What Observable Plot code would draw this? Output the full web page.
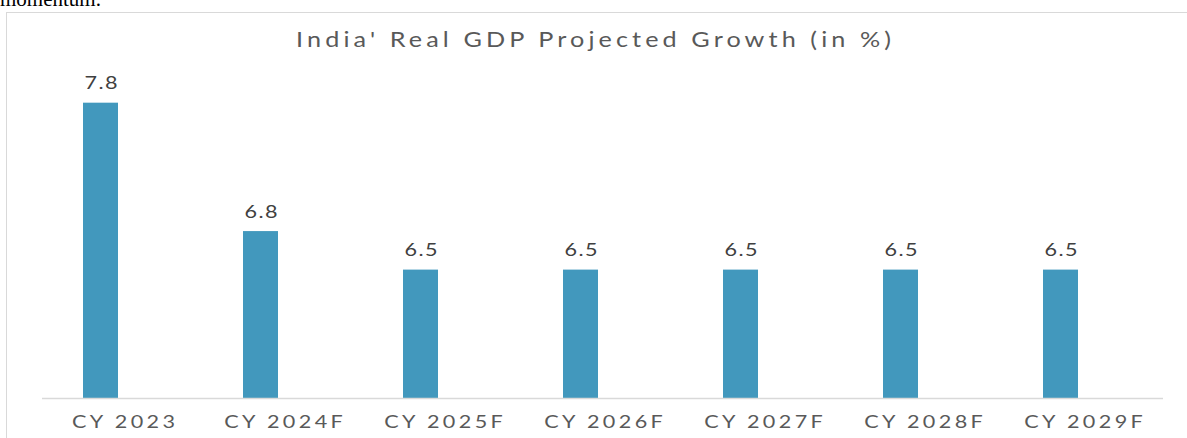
<!DOCTYPE html>
<html><head><meta charset="utf-8">
<script src="https://cdn.jsdelivr.net/npm/d3@7"></script>
<script src="https://cdn.jsdelivr.net/npm/@observablehq/plot@0.6"></script>
<style>
html,body{margin:0;padding:0;background:#fff;}
#wrap{position:relative;width:1187px;height:438px;overflow:hidden;}
#prev{position:absolute;left:0;top:-13px;font-family:"Liberation Serif",serif;font-size:21px;color:#000;}
#box{position:absolute;left:6px;top:12px;width:1200px;height:440px;border:1.5px solid #d9d9d9;box-sizing:border-box;}
#title{position:absolute;left:0;width:1187px;top:28px;text-align:center;font-family:Lato,sans-serif;font-size:21px;line-height:21px;color:#595959;white-space:nowrap;}
#title span{display:inline-block;transform-origin:50% 50%;}
#chart{position:absolute;left:0;top:0;}
</style></head>
<body><div id="wrap">
<div id="prev">momentum.</div>
<div id="box"></div>
<div id="title"><span id="tspan">India' Real GDP Projected Growth (in %)</span></div>
<div id="chart"></div>
</div>
<script>
const categories = ["CY 2023","CY 2024F","CY 2025F","CY 2026F","CY 2027F","CY 2028F","CY 2029F"];
const values = [7.8, 6.8, 6.5, 6.5, 6.5, 6.5, 6.5];
const data = categories.map((c,i)=>({cat:c, v:values[i]}));
const chart = Plot.plot({
  width:1187, height:438,
  marginLeft:42, marginRight:24, marginTop:77, marginBottom:40,
  style:{background:"transparent", fontFamily:"Lato, sans-serif"},
  x:{domain:categories, padding:0, label:null},
  y:{domain:[5.5,8], axis:null},
  marks:[
    Plot.barY(data,{x:"cat", y1:5.5, y2:"v", fill:"#4298bd", insetLeft:40, insetRight:85}),
    Plot.ruleY([5.5],{stroke:"#d9d9d9", strokeWidth:1.5}),
    Plot.text(data,{x:"cat", y:"v", text:d=>d.v.toFixed(1), dx:-22.5, dy:-19.5, fontSize:18, fill:"#404040"}),
    Plot.axisX({tickSize:0, tickPadding:17, fontSize:18, color:"#595959", label:null})
  ]
});
document.getElementById("chart").appendChild(chart);

// reference text is drawn wide: mild horizontal stretch plus letter-spacing
const S = 1.2;
function widen(texts, sample, target){
  texts.forEach(t=>t.style.letterSpacing="0px");
  const w = sample.getComputedTextLength() * S;
  const n = sample.textContent.length;
  const ls = Math.max(0, (target - w) / (n - 1)) / S;
  texts.forEach(t=>{
    t.style.letterSpacing = ls + "px";
    const base = t.getAttribute("transform") || "";
    const x = parseFloat(t.getAttribute("x") || 0);
    const dx = parseFloat(t.getAttribute("dx") || 0);
    t.setAttribute("dx", dx / S + ls / 2);
    t.setAttribute("transform", `${base} translate(${x},0) scale(${S},1) translate(${-x},0)`);
  });
}
const tickTexts = [...chart.querySelectorAll('[aria-label="x-axis tick label"] text')];
tickTexts.forEach(t=>t.setAttribute("fill","#595959"));
widen(tickTexts, tickTexts[0], 103);
const valTexts = [...chart.querySelectorAll('[aria-label="text"] text')];
widen(valTexts, valTexts[0], 33);

const ts = document.getElementById("tspan");
const tw = ts.getBoundingClientRect().width * S;
const tls = (595 - tw) / (ts.textContent.length - 1) / S;
ts.style.letterSpacing = tls + "px";
ts.style.marginRight = (-tls) + "px";
ts.style.transform = `scaleX(${S})`;
</script>
</body></html>
